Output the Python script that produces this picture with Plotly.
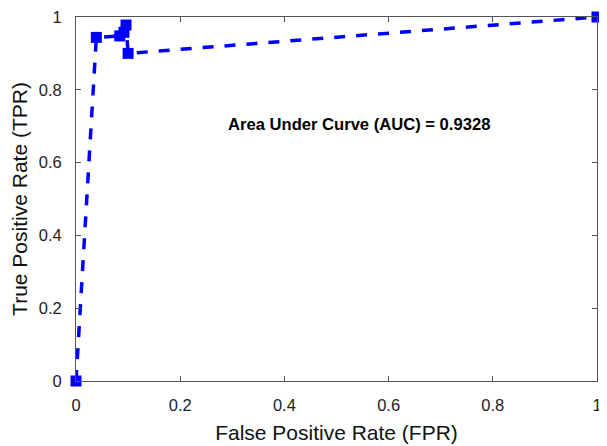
import plotly.graph_objects as go

fpr = [0.0, 0.039, 0.084, 0.092, 0.096, 0.10, 1.0]
tpr = [0.0, 0.944, 0.948, 0.958, 0.978, 0.90, 1.0]
tick_vals = [0, 0.2, 0.4, 0.6, 0.8, 1]
tick_text = ["0", "0.2", "0.4", "0.6", "0.8", "1"]
auc_text = "Area Under Curve (AUC) = 0.9328"

FONT = "Liberation Sans, Arial, Helvetica"

fig = go.Figure()
fig.add_trace(go.Scatter(
    x=fpr, y=tpr, mode="lines+markers",
    line=dict(color="#0000ff", width=3.5, dash="11px,11px"),
    marker=dict(symbol="square", size=11, color="#0000ff"),
    cliponaxis=False, showlegend=False,
))
fig.add_annotation(x=0.543, y=0.704, xref="x", yref="y", text="<b>" + auc_text + "</b>",
                   showarrow=False, font=dict(family=FONT, size=16.6, color="black"))
axis_common = dict(range=[0, 1], tickvals=tick_vals, ticktext=tick_text, showgrid=False, zeroline=False,
                   showline=True, linecolor="#555555", linewidth=1, mirror="ticks", ticks="inside",
                   ticklen=5, tickcolor="#555555", automargin=False, ticklabeloverflow="allow",
                   tickfont=dict(family=FONT, size=16.5, color="#222222"))
fig.update_xaxes(**axis_common, ticklabelstandoff=9,
                 title=dict(text="False Positive Rate (FPR)", standoff=12,
                            font=dict(family=FONT, size=21, color="#111111")))
fig.update_yaxes(**axis_common, ticklabelstandoff=10,
                 title=dict(text="True Positive Rate (TPR)", standoff=6,
                            font=dict(family=FONT, size=21, color="#111111")))
fig.update_layout(width=599, height=438, margin=dict(l=68, r=10, t=9, b=65),
                  plot_bgcolor="white", paper_bgcolor="white")
fig.write_html("out.html")
